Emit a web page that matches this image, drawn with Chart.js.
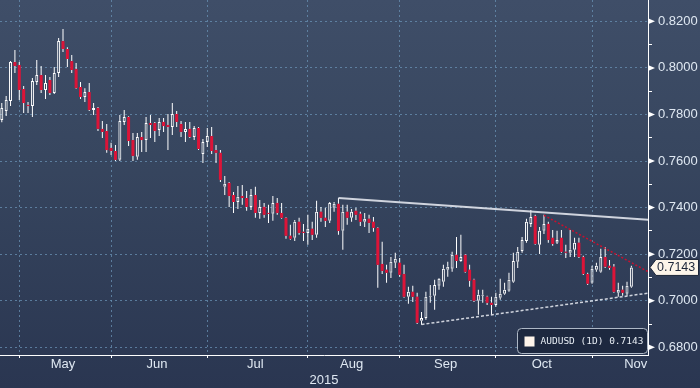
<!DOCTYPE html>
<html>
<head>
<meta charset="utf-8">
<title>AUDUSD (1D)</title>
<script src="https://cdn.jsdelivr.net/npm/chart.js@4.4.0/dist/chart.umd.min.js"></script>
<style>
  html, body { margin: 0; padding: 0; background: #2c3853; }
  #wrap { width: 700px; height: 388px; }
</style>
</head>
<body>
<div id="wrap"><canvas id="chart" width="700" height="388"></canvas></div>
<script>
const seriesName = 'AUDUSD (1D)';
const firstDay = '2015-04-27';
const lastCalendarDay = '2015-11-30';
const monthNames = ['Jan', 'Feb', 'Mar', 'Apr', 'May', 'Jun', 'Jul', 'Aug', 'Sep', 'Oct', 'Nov', 'Dec'];
const shownMonths = ['May', 'Jun', 'Jul', 'Aug', 'Sep', 'Oct', 'Nov'];
const yearLabel = '2015';

const open = [
  .7776, .7815, .7858, .8025, .8012, .7909, .7841, .7836, .7939, .7969,
  .7905, .7948, .7892, .7978, .8115, .8081, .8029, .7995, .7918, .7875,
  .7896, .7819, .7828, .7738, .7729, .7656, .7643, .7605, .7768, .7789,
  .7690, .7618, .7703, .7690, .7763, .7763, .7733, .7768, .7755, .7746,
  .7802, .7759, .7725, .7738, .7703, .7742, .7630, .7682, .7707, .7647,
  .7635, .7489, .7506, .7454, .7424, .7450, .7441, .7403, .7454, .7377,
  .7403, .7377, .7373, .7420, .7377, .7356, .7279, .7270, .7339, .7296,
  .7291, .7309, .7283, .7382, .7356, .7343, .7399, .7416, .7300, .7382,
  .7356, .7386, .7373, .7339, .7352, .7339, .7313, .7158, .7133, .7120,
  .7163, .7163, .7115, .7017, .7038, .7017, .6914, .6926, .7017, .7021,
  .7064, .7081, .7133, .7137, .7197, .7171, .7197, .7133, .7090, .7000,
  .7021, .7017, .6991, .6982, .7013, .7030, .7043, .7081, .7167, .7214,
  .7257, .7330, .7364, .7240, .7300, .7330, .7270, .7249, .7270, .7210,
  .7206, .7219, .7249, .7188, .7115, .7077, .7133, .7124, .7188, .7150,
  .7146, .7034, .7047, .7030, .7060
];
const high = [
  .7849, .7879, .8029, .8077, .8025, .7922, .7853, .7956, .8034, .8008,
  .7969, .7961, .8004, .8128, .8167, .8089, .8055, .8021, .7939, .7913,
  .7935, .7849, .7832, .7772, .7759, .7678, .7669, .7798, .7819, .7792,
  .7720, .7720, .7725, .7789, .7798, .7768, .7785, .7785, .7802, .7849,
  .7815, .7772, .7768, .7768, .7750, .7746, .7695, .7742, .7746, .7669,
  .7647, .7536, .7510, .7467, .7493, .7497, .7471, .7480, .7489, .7433,
  .7420, .7412, .7450, .7441, .7420, .7360, .7326, .7347, .7356, .7330,
  .7369, .7339, .7429, .7403, .7399, .7424, .7424, .7441, .7412, .7412,
  .7394, .7399, .7382, .7377, .7369, .7360, .7317, .7253, .7154, .7188,
  .7206, .7184, .7154, .7060, .7064, .7034, .6952, .7038, .7068, .7090,
  .7098, .7154, .7167, .7210, .7274, .7283, .7201, .7154, .7094, .7047,
  .7047, .7021, .7017, .7034, .7094, .7077, .7120, .7206, .7231, .7274,
  .7352, .7390, .7369, .7317, .7369, .7339, .7304, .7300, .7304, .7240,
  .7304, .7270, .7270, .7193, .7120, .7150, .7163, .7223, .7231, .7175,
  .7158, .7077, .7064, .7081, .7150
];
const low = [
  .7767, .7793, .7836, .7978, .7862, .7806, .7806, .7789, .7926, .7892,
  .7866, .7883, .7888, .7961, .8068, .8004, .7978, .7909, .7866, .7853,
  .7815, .7798, .7729, .7699, .7635, .7626, .7600, .7600, .7755, .7665,
  .7600, .7605, .7639, .7639, .7699, .7682, .7707, .7725, .7647, .7712,
  .7746, .7703, .7682, .7699, .7690, .7647, .7592, .7660, .7630, .7592,
  .7510, .7454, .7403, .7377, .7394, .7412, .7386, .7390, .7356, .7352,
  .7356, .7334, .7343, .7369, .7352, .7266, .7262, .7257, .7283, .7257,
  .7240, .7261, .7270, .7339, .7317, .7334, .7382, .7283, .7219, .7326,
  .7339, .7347, .7321, .7317, .7291, .7296, .7056, .7115, .7077, .7098,
  .7141, .7103, .7013, .6987, .6995, .6900, .6897, .6918, .6991, .6961,
  .7047, .7060, .7103, .7124, .7141, .7167, .7120, .7060, .6995, .6940,
  .6991, .6982, .6940, .6974, .7004, .7026, .7038, .7077, .7141, .7206,
  .7249, .7317, .7240, .7201, .7287, .7249, .7236, .7244, .7206, .7184,
  .7188, .7188, .7184, .7111, .7068, .7073, .7124, .7120, .7141, .7133,
  .7034, .7017, .7021, .7021, .7056
];
const close = [
  .7828, .7862, .8025, .8008, .7905, .7849, .7836, .7944, .7969, .7905,
  .7935, .7892, .7978, .8115, .8081, .8038, .7991, .7913, .7875, .7896,
  .7819, .7828, .7738, .7725, .7647, .7643, .7605, .7772, .7789, .7686,
  .7622, .7703, .7690, .7763, .7755, .7729, .7768, .7750, .7746, .7802,
  .7768, .7725, .7738, .7703, .7742, .7652, .7682, .7707, .7643, .7635,
  .7519, .7502, .7450, .7424, .7446, .7441, .7403, .7454, .7377, .7403,
  .7369, .7373, .7420, .7377, .7356, .7279, .7266, .7339, .7291, .7291,
  .7309, .7283, .7382, .7356, .7343, .7420, .7416, .7300, .7382, .7356,
  .7382, .7369, .7339, .7352, .7334, .7313, .7154, .7128, .7120, .7167,
  .7180, .7111, .7017, .7038, .7017, .6905, .6926, .7017, .7021, .7068,
  .7094, .7137, .7146, .7197, .7171, .7188, .7124, .7086, .7000, .7026,
  .7026, .6991, .6982, .7017, .7030, .7047, .7090, .7171, .7210, .7261,
  .7339, .7360, .7244, .7300, .7330, .7261, .7244, .7261, .7210, .7206,
  .7219, .7249, .7188, .7115, .7073, .7137, .7150, .7188, .7146, .7141,
  .7038, .7047, .7034, .7064, .7143
];

const yTicks = [0.68, 0.69, 0.70, 0.71, 0.72, 0.73, 0.74, 0.75, 0.76, 0.77, 0.78, 0.79, 0.80, 0.81, 0.82];

// trend lines: [trading day index, price]
const resistanceLine = [[77, 0.7441], [148, 0.7347]];
const supportLine = [[96, 0.6898], [148, 0.7033]];
const downTrendLine = [[124, 0.7367], [148, 0.7123]];

const RED = '#dc1438';
const WHITE = '#ffffff';
const GRID = 'rgba(105, 145, 180, 0.75)';
const LABEL = '#dfe8f2';

function tradingDays(from, to) {
  const days = [];
  const d = new Date(from + 'T00:00:00Z');
  const end = new Date(to + 'T00:00:00Z');
  while (d <= end) {
    const wd = d.getUTCDay();
    if (wd !== 0 && wd !== 6) days.push(d.toISOString().slice(0, 10));
    d.setUTCDate(d.getUTCDate() + 1);
  }
  return days;
}

const calendar = tradingDays(firstDay, lastCalendarDay);
const monthStarts = [];
const monthMids = [];
shownMonths.forEach(name => {
  const m = monthNames.indexOf(name) + 1;
  const inMonth = calendar.map((d, i) => [d, i]).filter(([d]) => +d.slice(5, 7) === m);
  const start = inMonth[0][1];
  monthStarts.push(start);
  monthMids.push(start + (inMonth.length - 1) / 2);
});

const isUp = i => close[i] >= open[i];
const idx = close.map((_, i) => i);
const bodies = idx.map(i => ({ x: i, y: [open[i], close[i]] }));
const upperWicks = idx.map(i => ({ x: i, y: [Math.max(open[i], close[i]), high[i]] }));
const lowerWicks = idx.map(i => ({ x: i, y: [low[i], Math.min(open[i], close[i])] }));
const toPoints = line => line.map(([x, y]) => ({ x, y }));

const isMajor = v => Math.round(v * 100) % 2 === 0;
const lastClose = close[close.length - 1];

const backgroundPlugin = {
  id: 'background',
  beforeDraw(chart) {
    const { ctx, width, height } = chart;
    const g = ctx.createLinearGradient(0, 0, 0, height);
    g.addColorStop(0, '#3f4e68');
    g.addColorStop(0.4, '#37465f');
    g.addColorStop(1, '#2a3651');
    ctx.save();
    ctx.fillStyle = g;
    ctx.fillRect(0, 0, width, height);
    ctx.restore();
  }
};

function roundRect(ctx, x, y, w, h, r) {
  ctx.beginPath();
  ctx.moveTo(x + r, y);
  ctx.arcTo(x + w, y, x + w, y + h, r);
  ctx.arcTo(x + w, y + h, x, y + h, r);
  ctx.arcTo(x, y + h, x, y, r);
  ctx.arcTo(x, y, x + w, y, r);
  ctx.closePath();
}

const decorPlugin = {
  id: 'decor',
  afterDraw(chart) {
    const { ctx, chartArea } = chart;
    const yScale = chart.scales.y;
    const ax = yScale.left;
    ctx.save();

    // arrow marks on the labelled ticks
    ctx.fillStyle = WHITE;
    yTicks.filter(isMajor).forEach(v => {
      const y = yScale.getPixelForValue(v);
      ctx.beginPath();
      ctx.moveTo(ax, y - 3);
      ctx.lineTo(ax + 7, y);
      ctx.lineTo(ax, y + 3);
      ctx.closePath();
      ctx.fill();
    });

    // last price tag
    const py = yScale.getPixelForValue(lastClose);
    ctx.beginPath();
    ctx.moveTo(ax + 2, py);
    ctx.lineTo(ax + 8, py - 8);
    ctx.lineTo(ax + 50.5, py - 8);
    ctx.lineTo(ax + 50.5, py + 8);
    ctx.lineTo(ax + 8, py + 8);
    ctx.closePath();
    ctx.fillStyle = '#fdf5e9';
    ctx.fill();
    ctx.strokeStyle = '#1c2538';
    ctx.lineWidth = 1;
    ctx.stroke();
    ctx.fillStyle = '#1c2538';
    ctx.font = '12.5px "Liberation Sans", Arial, sans-serif';
    ctx.textAlign = 'left';
    ctx.textBaseline = 'middle';
    ctx.fillText(lastClose.toFixed(4), ax + 9, py + 0.5);

    // legend box
    const bx = chartArea.right - 130.5, by = chartArea.bottom - 26.5;
    roundRect(ctx, bx, by, 130, 25, 4);
    ctx.fillStyle = '#1d283f';
    ctx.fill();
    ctx.strokeStyle = '#aeb8c6';
    ctx.stroke();
    ctx.fillStyle = '#fdf3ea';
    ctx.fillRect(bx + 7, by + 8, 10, 10);
    ctx.fillStyle = '#e6ecf3';
    ctx.font = '9.5px "DejaVu Sans Mono", monospace';
    ctx.fillText(seriesName + ' ' + lastClose.toFixed(4), bx + 23, by + 13.5);
    ctx.restore();
  }
};

const wickStyle = {
  type: 'bar',
  grouped: false,
  barThickness: 1,
  inflateAmount: 0,
  borderWidth: 0,
  backgroundColor: WHITE,
  order: 2
};

new Chart(document.getElementById('chart'), {
  type: 'bar',
  data: {
    datasets: [
      {
        type: 'line', data: toPoints(resistanceLine), order: 0,
        borderColor: 'rgba(225, 228, 236, 0.9)', borderWidth: 2, pointRadius: 0
      },
      {
        type: 'line', data: toPoints(supportLine), order: 0,
        borderColor: 'rgba(225, 228, 236, 0.9)', borderWidth: 1.5, borderDash: [3, 2], pointRadius: 0
      },
      {
        type: 'line', data: toPoints(downTrendLine), order: 0,
        borderColor: '#c8102e', borderWidth: 1.5, borderDash: [2, 2], pointRadius: 0
      },
      {
        type: 'bar', data: bodies, order: 1, grouped: false,
        barThickness: 3, minBarLength: 1, inflateAmount: 0, borderSkipped: false,
        backgroundColor: c => isUp(c.dataIndex) ? 'rgba(0,0,0,0)' : RED,
        borderColor: WHITE,
        borderWidth: c => isUp(c.dataIndex) ? 1 : 0
      },
      Object.assign({ data: upperWicks }, wickStyle),
      Object.assign({ data: lowerWicks }, wickStyle)
    ]
  },
  options: {
    responsive: false,
    animation: false,
    events: [],
    devicePixelRatio: 1,
    layout: { padding: 0 },
    plugins: { legend: { display: false }, tooltip: { enabled: false } },
    scales: {
      x: {
        type: 'linear',
        min: -0.41,
        max: 147.8,
        offset: false,
        afterBuildTicks: s => {
          s.ticks = monthStarts.map(v => ({ value: v })).concat(monthMids.map(v => ({ value: v })));
        },
        afterFit: s => { s.height = 33; s.paddingLeft = 0; s.paddingRight = 0; },
        grid: {
          offset: false,
          color: c => monthStarts.includes(c.tick && c.tick.value) ? GRID : 'rgba(0,0,0,0)',
          tickColor: c => monthStarts.includes(c.tick && c.tick.value) ? WHITE : 'rgba(0,0,0,0)',
          tickLength: 3,
          lineWidth: 1
        },
        border: { display: true, color: WHITE, width: 1, dash: [2, 3] },
        ticks: {
          autoSkip: false,
          maxRotation: 0,
          padding: 0,
          color: LABEL,
          font: { family: '"Liberation Sans", Arial, sans-serif', size: 13, lineHeight: 1 },
          callback: v => {
            const k = monthMids.indexOf(v);
            return k >= 0 ? shownMonths[k] : '';
          }
        },
        title: {
          display: true,
          text: yearLabel,
          color: LABEL,
          padding: 0,
          font: { family: '"Liberation Sans", Arial, sans-serif', size: 13 }
        }
      },
      y: {
        type: 'linear',
        position: 'right',
        min: 0.67669,
        max: 0.82915,
        afterBuildTicks: s => { s.ticks = yTicks.map(v => ({ value: v })); },
        afterFit: s => { s.width = 52; s.paddingTop = 0; s.paddingBottom = 0; },
        grid: {
          color: c => c.tick && isMajor(c.tick.value) ? GRID : 'rgba(0,0,0,0)',
          tickColor: WHITE,
          tickLength: 4,
          lineWidth: 1
        },
        border: { display: true, color: WHITE, width: 1, dash: [2, 3] },
        ticks: {
          autoSkip: false,
          padding: 6,
          color: LABEL,
          font: { family: '"Liberation Sans", Arial, sans-serif', size: 13 },
          callback: v => isMajor(v) ? v.toFixed(4) : ''
        }
      }
    }
  },
  plugins: [backgroundPlugin, decorPlugin]
});
</script>
</body>
</html>
